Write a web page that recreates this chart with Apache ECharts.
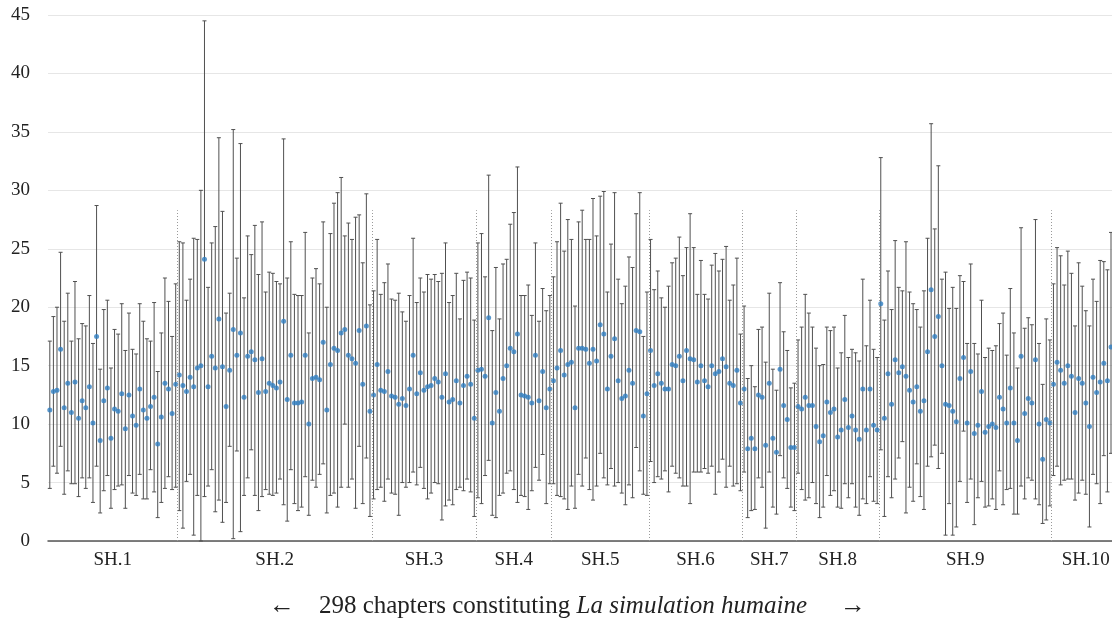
<!DOCTYPE html>
<html>
<head>
<meta charset="utf-8">
<script src="https://cdn.jsdelivr.net/npm/echarts@6/dist/echarts.min.js"></script>
<style>
html,body{margin:0;padding:0;background:#fff;overflow:hidden;width:1112px;height:619px;}
#chart{width:1120px;height:619px;}
</style>
</head>
<body>
<div id="chart"></div>
<script>
// ---- data ----
const sectionNames = ['SH.1','SH.2','SH.3','SH.4','SH.5','SH.6','SH.7','SH.8','SH.9','SH.10'];
const sectionSizes = [36,54,29,21,27,26,15,23,48,19];
const yTicks = [0,5,10,15,20,25,30,35,40,45];
const meanValues = [
11.2,12.8,12.9,16.4,11.4,13.5,11.0,13.6,10.5,12.0,11.4,13.2,10.1,17.5,8.6,12.0,13.1,8.8,11.3,11.1,
12.6,9.6,12.5,10.7,9.9,13.0,11.2,10.5,11.5,12.3,8.3,10.6,13.5,13.0,10.9,13.4,14.2,13.3,12.8,14.0,
13.2,14.8,15.0,24.1,13.2,15.8,14.8,19.0,14.9,11.5,14.6,18.1,15.9,17.8,12.3,15.8,16.2,15.5,12.7,15.6,
12.8,13.5,13.3,13.1,13.6,18.8,12.1,15.9,11.8,11.8,11.9,15.9,10.0,13.9,14.0,13.8,17.0,11.2,15.1,16.5,
16.3,17.8,18.1,15.9,15.6,15.2,18.0,13.4,18.4,11.1,12.5,15.1,12.9,12.8,14.5,12.4,12.3,11.7,12.2,11.6,
13.0,15.9,12.6,14.4,12.9,13.2,13.3,13.9,13.6,12.3,14.3,11.9,12.1,13.7,11.8,13.3,14.1,13.4,10.5,14.6,
14.7,14.1,19.1,10.1,12.7,11.1,13.9,15.0,16.5,16.2,17.7,12.5,12.4,12.3,11.8,15.9,12.0,14.5,11.4,13.0,
13.7,14.8,16.3,14.2,15.1,15.3,11.4,16.5,16.5,16.4,15.2,16.4,15.4,18.5,17.7,13.0,15.8,17.3,13.7,12.2,
12.4,14.6,13.5,18.0,17.9,10.7,12.6,16.3,13.3,14.3,13.5,13.0,13.0,15.1,15.0,15.8,13.7,16.3,15.6,15.5,
13.6,15.0,13.7,13.2,15.0,14.3,14.5,15.6,14.9,13.5,13.3,14.6,11.8,13.0,7.9,8.8,7.9,12.5,12.3,8.2,
13.5,8.8,7.6,14.7,11.6,10.4,8.0,8.0,11.5,11.3,12.3,11.6,11.6,9.8,8.5,9.0,11.9,11.0,11.3,8.9,
9.5,12.1,9.7,10.7,9.5,8.7,13.0,9.5,13.0,9.9,9.5,20.3,10.5,14.3,11.7,15.5,14.4,14.9,14.1,12.9,
11.9,13.2,11.1,12.0,16.2,21.5,17.5,19.2,15.0,11.7,11.6,11.1,10.2,13.9,15.7,10.1,14.5,9.2,9.9,12.8,
9.3,9.8,10.0,9.7,12.3,11.3,10.1,13.1,10.1,8.6,15.8,10.9,12.2,11.8,15.5,10.0,7.0,10.4,10.1,13.4,
15.3,14.6,13.5,15.0,14.1,11.0,13.9,13.5,11.8,9.8,14.0,12.7,13.6,15.2,13.7,16.6,14.0,13.0
];
const highValues = [
17.1,19.2,20.0,24.7,18.8,21.2,17.1,22.2,17.3,18.6,18.4,21.0,16.9,28.7,14.7,19.8,20.6,14.8,18.1,17.7,
20.3,16.3,19.5,16.4,16.0,20.3,18.8,17.3,17.1,20.4,14.5,17.8,22.5,20.5,17.5,22.0,25.6,25.5,20.6,22.4,
25.9,25.8,30.0,44.5,21.7,25.5,26.9,34.5,28.2,19.5,21.2,35.2,24.2,34.0,20.8,26.1,24.5,27.0,22.8,27.3,
21.3,23.0,22.9,22.2,22.0,34.4,22.5,25.6,21.1,21.0,21.0,26.4,17.8,22.5,23.3,22.0,27.3,20.0,26.3,28.9,
29.8,31.1,26.1,27.2,25.8,27.7,27.9,23.8,29.7,20.2,21.4,25.8,21.1,22.1,23.7,20.7,20.6,21.2,19.6,18.8,
21.0,25.9,20.4,22.5,21.3,22.8,22.4,22.8,22.2,22.9,25.5,20.4,21.0,22.9,19.0,22.3,23.0,22.5,18.9,25.5,
26.3,22.6,31.3,18.0,23.4,19.0,23.7,24.1,27.1,28.1,32.0,21.0,21.0,21.9,19.3,25.5,18.8,21.6,19.7,21.0,
22.6,25.6,28.9,24.8,27.5,25.8,20.1,27.3,28.3,25.8,25.8,29.3,26.1,29.5,29.9,21.3,25.4,29.8,22.4,20.3,
21.8,24.3,23.4,28.0,29.8,17.5,21.3,25.8,21.5,23.1,20.8,20.0,21.8,23.8,24.2,26.0,22.7,25.1,28.0,25.1,
21.1,24.0,21.1,20.7,23.6,24.6,23.1,24.1,25.2,20.6,21.9,24.2,17.7,20.1,13.9,15.0,13.2,18.1,18.3,15.3,
21.2,14.7,12.9,22.1,17.9,16.3,13.1,13.5,17.2,18.3,21.1,19.5,18.3,16.5,15.0,15.1,18.3,18.0,18.3,14.8,
16.1,19.3,15.7,16.4,16.1,15.4,22.4,16.7,20.6,16.4,15.7,32.8,18.9,23.1,19.8,25.7,21.7,21.4,25.6,21.3,
20.3,19.8,18.3,21.4,25.9,35.7,26.7,32.1,22.4,23.0,19.9,21.7,19.9,22.7,22.2,16.9,23.7,16.9,16.0,20.6,
15.7,16.5,16.3,16.7,18.6,19.5,15.9,21.6,17.8,14.8,26.8,18.2,19.1,18.5,27.5,16.9,13.4,19.0,17.2,22.0,
25.1,24.4,21.9,24.8,22.9,18.4,23.8,21.8,19.7,18.4,22.4,20.5,24.0,23.9,23.2,26.4,22.0,21.0
];
const lowValues = [
4.5,6.4,5.8,8.1,4.0,6.0,4.9,4.9,3.8,5.4,4.5,5.4,3.3,6.4,2.4,4.3,5.6,2.8,4.4,4.7,
4.8,2.8,5.6,4.1,3.9,5.7,3.6,3.6,6.1,4.2,2.0,3.3,4.5,5.5,4.4,4.6,2.6,1.1,5.1,5.7,
0.5,3.9,0.0,3.8,4.7,6.1,2.5,3.5,1.6,3.3,8.1,0.2,7.7,0.8,3.9,5.4,7.8,3.9,2.6,3.8,
4.4,4.0,3.9,4.1,5.3,3.1,1.7,6.1,3.2,2.6,2.9,5.5,2.2,5.2,4.6,5.7,6.6,2.4,3.9,4.1,
2.9,4.6,10.0,4.6,5.3,2.8,8.1,3.2,7.1,2.1,3.6,4.4,4.6,3.4,5.3,4.1,4.0,2.2,5.0,4.6,
5.0,5.9,4.8,6.3,4.5,3.6,4.1,5.0,4.9,1.8,3.0,3.5,3.1,4.4,4.6,4.3,5.3,4.2,2.1,3.7,
3.2,5.6,6.9,2.2,2.0,3.9,4.1,5.8,6.0,4.4,3.3,3.9,3.8,2.7,4.3,6.3,5.2,7.4,3.2,4.9,
4.9,3.9,3.8,3.6,2.7,4.7,2.8,5.7,4.7,7.1,4.4,3.5,4.7,7.5,5.4,4.8,6.2,4.7,5.0,4.1,
3.1,4.8,3.7,8.0,6.0,4.0,3.9,6.8,5.0,5.5,5.3,6.0,4.2,6.4,5.8,5.4,4.7,4.7,3.2,5.9,
5.9,5.9,6.2,5.8,6.4,4.0,5.9,7.0,4.6,6.4,4.7,4.9,4.3,5.9,2.0,2.6,2.7,5.4,4.6,1.1,
5.9,2.9,2.3,7.3,5.4,4.5,2.9,2.6,5.8,4.4,3.5,3.7,5.0,3.2,2.0,2.9,5.6,3.9,4.3,2.9,
2.8,4.9,3.7,4.9,2.9,2.2,3.6,3.2,5.5,3.4,3.2,7.8,2.1,5.5,3.7,5.3,7.1,8.5,2.4,4.6,
3.4,6.6,3.8,2.7,6.4,7.2,8.2,6.2,7.5,0.5,3.2,0.5,1.2,5.1,9.4,3.3,5.3,1.4,3.7,5.1,
2.9,3.0,3.6,2.7,6.0,3.1,4.4,4.5,2.3,2.3,4.7,3.6,5.4,5.2,3.6,3.1,1.5,1.8,3.0,5.6,
6.4,4.8,5.2,5.3,5.3,3.5,4.1,5.2,4.0,1.2,5.7,4.9,3.2,7.3,4.2,7.5,5.0,4.5
];
const SEPARATOR_TOP = 28.3;

// ---- derived structures ----
const N = meanValues.length;
const pointData = meanValues.map((v, i) => [i + 1, v]);
const barData = lowValues.map((lo, i) => [i + 1, lo, highValues[i]]);
const boundaries = [];
const centers = [];
let acc = 0;
sectionSizes.forEach((s, k) => {
  centers.push(acc + 0.5 + s / 2);
  acc += s;
  if (k < sectionSizes.length - 1) boundaries.push(acc + 0.5);
});
const centerName = {};
centers.forEach((c, k) => { centerName[c.toFixed(2)] = sectionNames[k]; });

const FONT = 'Liberation Serif';
const chart = echarts.init(document.getElementById('chart'), null, {renderer: 'canvas'});

function renderBar(params, api) {
  const x = api.value(0), lo = api.value(1), hi = api.value(2);
  const a = api.coord([x, lo]);
  const b = api.coord([x, hi]);
  const hw = 2;
  const style = {stroke: '#505050', lineWidth: 1};
  return {
    type: 'group',
    children: [
      {type: 'line', shape: {x1: a[0], y1: a[1], x2: b[0], y2: b[1]}, style: style},
      {type: 'line', shape: {x1: b[0] - hw, y1: b[1], x2: b[0] + hw, y2: b[1]}, style: style},
      {type: 'line', shape: {x1: a[0] - hw, y1: a[1], x2: a[0] + hw, y2: a[1]}, style: style}
    ]
  };
}

chart.setOption({
  animation: false,
  backgroundColor: '#ffffff',
  grid: {left: 48, right: 0, top: 15, bottom: 78, containLabel: false},
  xAxis: {
    type: 'value',
    min: 0.5,
    max: N + 0.5,
    splitLine: {show: false},
    axisTick: {show: false},
    axisLine: {show: true, lineStyle: {color: '#555', width: 1.5}},
    axisLabel: {
      show: true,
      customValues: centers,
      showMinLabel: true,
      showMaxLabel: true,
      hideOverlap: false,
      formatter: function (v) { return centerName[Number(v).toFixed(2)] || ''; },
      color: '#222',
      fontFamily: FONT,
      fontSize: 19,
      margin: 10
    }
  },
  yAxis: {
    type: 'value',
    min: yTicks[0],
    max: yTicks[yTicks.length - 1],
    interval: yTicks[1] - yTicks[0],
    axisLine: {show: false},
    axisTick: {show: false},
    splitLine: {show: true, lineStyle: {color: '#e6e6e6', width: 1}},
    axisLabel: {color: '#222', fontFamily: FONT, fontSize: 19, margin: 18}
  },
  series: [
    {
      type: 'custom',
      renderItem: renderBar,
      data: barData,
      encode: {x: 0, y: [1, 2]},
      z: 2,
      silent: true
    },
    {
      type: 'scatter',
      data: pointData,
      symbol: 'circle',
      symbolSize: 5,
      itemStyle: {color: '#2f7ec2'},
      z: 3,
      silent: true,
      markLine: {
        silent: true,
        symbol: 'none',
        label: {show: false},
        lineStyle: {color: '#9a9a9a', type: [1, 2], width: 1},
        data: boundaries.map(b => [{coord: [b, 0]}, {coord: [b, SEPARATOR_TOP]}])
      }
    }
  ],
  graphic: [
    {type: 'text', x: 282, y: 606, style: {text: '←', font: '26px "' + FONT + '"', fill: '#222', textAlign: 'center', textVerticalAlign: 'middle'}},
    {type: 'text', x: 853, y: 606, style: {text: '→', font: '26px "' + FONT + '"', fill: '#222', textAlign: 'center', textVerticalAlign: 'middle'}},
    {type: 'text', x: 563, y: 606, style: {
      text: '298 chapters constituting {i|La simulation humaine}',
      font: '25px "' + FONT + '"', fill: '#222', textAlign: 'center', textVerticalAlign: 'middle',
      rich: {i: {fontStyle: 'italic', fontFamily: FONT, fontSize: 25, fill: '#222'}}
    }}
  ]
});
</script>
</body>
</html>
